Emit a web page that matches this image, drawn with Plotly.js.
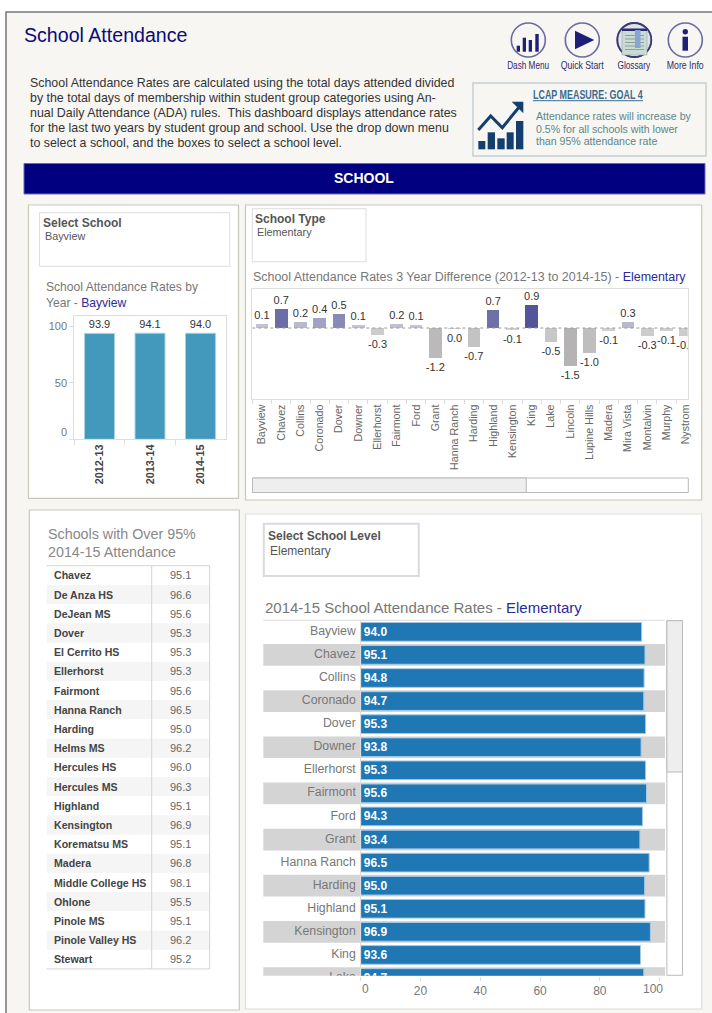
<!DOCTYPE html>
<html><head><meta charset="utf-8">
<script src="https://cdn.plot.ly/plotly-3.0.0.min.js"></script>
<style>html,body{margin:0;padding:0;background:#fff;overflow:hidden}#g{width:712px;height:1013px}</style>
</head><body><div id="g"></div>
<script>
// ---- data ----
const years = ['2012-13','2013-14','2014-15'];
const yearRates = [93.9,94.1,94.0];
const yearLabels = ['93.9','94.1','94.0'];

const diffSchools = ['Bayview','Chavez','Collins','Coronado','Dover','Downer','Ellerhorst','Fairmont','Ford','Grant','Hanna Ranch','Harding','Highland','Kensington','King','Lake','Lincoln','Lupine Hills','Madera','Mira Vista','Montalvin','Murphy','Nystrom'];
const diffValues = [0.15,0.75,0.25,0.41,0.56,0.13,-0.28,0.17,0.13,-1.19,-0.05,-0.74,0.72,-0.08,0.9,-0.56,-1.5,-0.98,-0.13,0.25,-0.32,-0.13,-0.32];
const diffLabels = ['0.1','0.7','0.2','0.4','0.5','0.1','-0.3','0.2','0.1','-1.2','0.0','-0.7','0.7','-0.1','0.9','-0.5','-1.5','-1.0','-0.1','0.3','-0.3','-0.1','-0.3'];

const levelSchools = ['Bayview','Chavez','Collins','Coronado','Dover','Downer','Ellerhorst','Fairmont','Ford','Grant','Hanna Ranch','Harding','Highland','Kensington','King','Lake'];
const levelRates = [94.0,95.1,94.8,94.7,95.3,93.8,95.3,95.6,94.3,93.4,96.5,95.0,95.1,96.9,93.6,94.7];

const over95Schools = ['Chavez','De Anza HS','DeJean MS','Dover','El Cerrito HS','Ellerhorst','Fairmont','Hanna Ranch','Harding','Helms MS','Hercules HS','Hercules MS','Highland','Kensington','Korematsu MS','Madera','Middle College HS','Ohlone','Pinole MS','Pinole Valley HS','Stewart'];
const over95Rates = ['95.1','96.6','95.6','95.3','95.3','95.3','95.6','96.5','95.0','96.2','96.0','96.3','95.1','96.9','95.1','96.8','98.1','95.5','95.1','96.2','95.2'];

const introLines = ['School Attendance Rates are calculated using the total days attended divided','by the total days of membership within student group categories using An-','nual Daily Attendance (ADA) rules.  This dashboard displays attendance rates','for the last two years by student group and school. Use the drop down menu','to select a school, and the boxes to select a school level.'];
const lcapLines = ['Attendance rates will increase by','0.5% for all schools with lower','than 95% attendance rate'];
const iconLabels = ['Dash Menu','Quick Start','Glossary','More Info'];

// ---- layout helpers (page pixels to paper fractions) ----
const W = 712, H = 1013;
const FX = v => v / W, FY = v => 1 - v / H;
const SANS = 'Liberation Sans, Arial, sans-serif';
const NAVY = '#2a2a9a';
const shapes = [], notes = [];

function rect(x0, y0, x1, y1, fill, line, lw) {
  shapes.push({type:'rect', xref:'paper', yref:'paper', x0:FX(x0), x1:FX(x1), y0:FY(y1), y1:FY(y0),
    fillcolor: fill || 'rgba(0,0,0,0)', line:{color: line || 'rgba(0,0,0,0)', width: line ? (lw === undefined ? 1 : lw) : 0}, layer:'below'});
}
function circle(cx, cy, r, fill, line, lw) {
  shapes.push({type:'circle', xref:'paper', yref:'paper', x0:FX(cx-r), x1:FX(cx+r), y0:FY(cy+r), y1:FY(cy-r),
    fillcolor: fill || 'rgba(0,0,0,0)', line:{color: line || 'rgba(0,0,0,0)', width: line ? lw : 0}, layer:'below'});
}
function poly(pts, fill, line, lw, closed) {
  const d = pts.map((p,i) => (i ? 'L' : 'M') + FX(p[0]) + ',' + FY(p[1])).join(' ') + (closed ? ' Z' : '');
  shapes.push({type:'path', xref:'paper', yref:'paper', path:d, fillcolor: fill || 'rgba(0,0,0,0)',
    line:{color: line || 'rgba(0,0,0,0)', width: line ? lw : 0}, layer:'below'});
}
function label(text, x, y, size, color, opts) {
  opts = opts || {};
  const left = !opts.anchor;
  notes.push({text, xref:'paper', yref:'paper', x:FX(left ? x - 1 : x), y:FY(y), xanchor:opts.anchor || 'left', yanchor:'middle',
    showarrow:false, borderpad:0, align:opts.anchor === 'center' ? 'center' : 'left',
    font:{family:SANS, size, color}});
}

// ---- page frame ----
rect(6, 12, 730, 1030, '#f7f6f2', '#777777', 1.5);

label('School Attendance', 24, 35, 19.6, '#0b0b7a');
introLines.forEach((t,i) => label(t, 30, 83 + i*15, 12.4, '#333333'));

// ---- nav icons ----
const iconX = [528.3, 582.3, 634.3, 685.3];
const ICON = '#1f1f78';
iconX.forEach((x,i) => {
  circle(x, 40, 17, i === 2 ? '#dfe5e2' : '#f7f6f2', '#6a6aa4', 1.6);
  label(iconLabels[i], x, 65, 11, '#2a2a70', {anchor:'center'});
});
[[516.7,520,45.7],[522.7,526,37.7],[528.7,532,40],[535.3,538.7,34]].forEach(b => rect(b[0], b[2], b[1], 51.7, ICON));
poly([[575,30.7],[575,49.3],[594.3,40]], ICON, null, 0, true);
circle(634.3, 40, 17, null, '#3a3a7c', 1.8);
rect(622, 30, 647, 55, '#c9dbd2', '#8c9aa0', 0.5);
rect(622, 28.5, 647, 31, '#2b2b70');
[35,38.5,42,45.5,49].forEach(y => rect(625, y, 644, y+1, '#8f9f9f'));
rect(635, 30, 640.5, 48, '#86a6d8');
circle(685.3, 31.7, 2.7, ICON);
rect(682.5, 36.7, 688, 50.7, ICON);

// ---- LCAP box ----
rect(473, 83, 706, 156, '#f7f6f2', '#c5cfd6', 1.5);
const LCAP = '#123f6d';
[[25,46,183],[53,75,157],[82,104,175],[110,131,157],[138,160,123]].forEach(b => rect(470+b[0]/3, 80+b[2]/3, 470+b[1]/3, 80+208/3, LCAP));
poly([[478.3,130],[490.7,116],[502.3,127.7],[520,106]], null, LCAP, 3);
poly([[511.7,101.7],[523.3,101.7],[523.3,113.3]], LCAP, null, 0, true);
label('<b>LCAP MEASURE: GOAL 4</b>', 533, 94.5, 12, '#3c6a90');
shapes.push({type:'line', xref:'paper', yref:'paper', x0:FX(533), x1:FX(643), y0:FY(100.7), y1:FY(100.7), line:{color:'#3c6a90', width:1}, layer:'below'});
lcapLines.forEach((t,i) => label(t, 536, 116 + i*12.5, 10.6, '#5b8787'));

// ---- banner ----
rect(24, 163.5, 705, 194, '#000080', '#6a6ab0', 1);
label('<b>SCHOOL</b>', 364, 178, 14, '#ffffff', {anchor:'center'});

// ---- panels ----
const PANEL = '#c9c8b8';
rect(28.5, 205, 238.5, 498.3, '#ffffff', PANEL, 1.2);
rect(245.5, 205, 701.7, 500, '#ffffff', PANEL, 1.2);
rect(29.3, 510, 239.3, 1010, '#ffffff', PANEL, 1.2);
rect(245.5, 514, 701.7, 1009, '#ffffff', '#dededa', 1.2);

// select boxes
rect(39.5, 212.7, 229.7, 266.3, '#ffffff', '#dddddd', 1);
label('<b>Select School</b>', 43, 223, 12, '#555555');
label('Bayview', 45, 236, 10.8, '#555555');
rect(252.3, 208.7, 366, 261.7, '#ffffff', '#dddddd', 1);
label('<b>School Type</b>', 255, 219, 12, '#555555');
label('Elementary', 257, 232, 10.8, '#555555');
rect(263.8, 523.8, 418.7, 576, '#ffffff', '#dadada', 2);
label('<b>Select School Level</b>', 268, 536, 12, '#555555');
label('Elementary', 269.5, 551, 12, '#555555');

// panel titles
label('School Attendance Rates by', 46, 287, 12.1, '#777777');
label('Year - <span style="color:'+NAVY+'">Bayview</span>', 46, 303, 12.1, '#777777');
label('School Attendance Rates 3 Year Difference (2012-13 to 2014-15) - <span style="color:'+NAVY+'">Elementary</span>', 252.5, 277, 12.45, '#777777');
label('Schools with Over 95%', 48, 534, 14.3, '#888888');
label('2014-15 Attendance', 48, 551.5, 14.3, '#888888');
label('2014-15 School Attendance Rates - <span style="color:'+NAVY+'">Elementary</span>', 264.5, 607, 15, '#777777');

// ---- over-95 table ----
const tTop = 565.7, tRow = 19.2;
over95Schools.forEach((s,i) => {
  if (i % 2) rect(46.7, tTop + i*tRow, 209.7, tTop + (i+1)*tRow, '#f5f5f5');
  label('<b>'+s+'</b>', 53.5, tTop + (i+.5)*tRow, 10.6, '#444444');
  label(over95Rates[i], 180.5, tTop + (i+.5)*tRow, 11, '#666666', {anchor:'center'});
});
const tBot = tTop + over95Schools.length*tRow;
[[46.7,tTop,209.7,tTop],[46.7,tBot,209.7,tBot],[151.7,tTop,151.7,tBot],[209.7,tTop,209.7,tBot]].forEach(l =>
  shapes.push({type:'line', xref:'paper', yref:'paper', x0:FX(l[0]), x1:FX(l[2]), y0:FY(l[1]), y1:FY(l[3]), line:{color:'#d4d4d4', width:1}, layer:'below'}));

// ---- scrollbars ----
rect(252.5, 478, 688.3, 492.5, '#ffffff', '#bbbbbb', 1);
rect(252.5, 478, 526.3, 492.5, '#eeeeee', '#bbbbbb', 1);
rect(666.9, 620.7, 682.5, 975.3, '#ffffff', '#bbbbbb', 1);
rect(666.9, 620.7, 682.5, 772, '#eeeeee', '#bbbbbb', 1);

// ---- row bands of the level chart, on its category axis ----
levelSchools.forEach((s,i) => {
  if (i % 2) shapes.push({type:'rect', xref:'paper', yref:'y3', x0:FX(263.3), x1:FX(665), y0:i-0.5+0.03, y1:i+0.5-0.03,
    fillcolor:'#d4d4d4', line:{width:0}, layer:'below'});
});
shapes.push({type:'line', xref:'paper', yref:'paper', x0:FX(263.3), x1:FX(665), y0:FY(620.3), y1:FY(620.3), line:{color:'#dddddd', width:1}, layer:'below'});

// zero line of the difference chart
shapes.push({type:'line', xref:'paper', yref:'y2', x0:FX(252.3), x1:FX(687.7), y0:0, y1:0, line:{color:'#9a9a9a', width:1, dash:'dot'}, layer:'above'});

// edge tick labels that sit shifted inside the plots in the reference
notes.push({text:'0', xref:'paper', yref:'y', x:FX(68.5), y:0, xanchor:'right', yanchor:'middle', yshift:7, showarrow:false, font:{family:SANS, size:11, color:'#777777'}});
notes.push({text:'0', xref:'x3', yref:'paper', x:0, y:FY(989), xanchor:'center', yanchor:'middle', xshift:4.5, showarrow:false, font:{family:SANS, size:12, color:'#777777'}});
notes.push({text:'100', xref:'x3', yref:'paper', x:100, y:FY(989), xanchor:'center', yanchor:'middle', xshift:-7, showarrow:false, font:{family:SANS, size:12, color:'#777777'}});

const traces = [
  {type:'bar', x:years, y:yearRates, xaxis:'x', yaxis:'y', width:0.594,
   marker:{color:'#4399bb', line:{color:'#a5d3e2', width:1}},
   text:yearLabels, textposition:'outside', textangle:0, constraintext:'none', cliponaxis:false,
   textfont:{family:SANS, size:11, color:'#333333'}, hoverinfo:'skip'},
  {type:'bar', x:diffSchools, y:diffValues, xaxis:'x2', yaxis:'y2', width:0.66,
   marker:{color:diffValues, cmin:-1.5, cmax:0.9, colorscale:[[0,'#b5b3b3'],[0.62,'#d2d2d2'],[0.63,'#cfcfdd'],[0.75,'#b3b3cd'],[1,'#54549a']], showscale:false, line:{width:0}},
   text:diffLabels, textposition:'outside', textangle:0, constraintext:'none', cliponaxis:true,
   textfont:{family:SANS, size:11, color:'#333333'}, hoverinfo:'skip'},
  {type:'bar', orientation:'h', x:levelRates, y:levelSchools, xaxis:'x3', yaxis:'y3', width:0.81,
   marker:{color:'#1f77b4', line:{color:'#a8c9e2', width:1}},
   text:levelRates.map(v => v.toFixed(1)), textposition:'inside', insidetextanchor:'start', textangle:0, constraintext:'none', cliponaxis:true,
   textfont:{family:SANS, size:12, color:'#ffffff', weight:'bold'}, hoverinfo:'skip'},
  {type:'scatter', mode:'text', x:levelSchools.map(() => 1), y:levelSchools, xaxis:'x4', yaxis:'y4',
   text:levelSchools, textposition:'middle left', cliponaxis:true,
   textfont:{family:SANS, size:12.3, color:'#777777'}, hoverinfo:'skip'}
];

const lvlRange = [14.9, -0.5];
const layout = {
  width:W, height:H, margin:{l:0,r:0,t:0,b:0,pad:0}, showlegend:false, autosize:false,
  paper_bgcolor:'#ffffff', plot_bgcolor:'rgba(0,0,0,0)', bargap:0, hovermode:false,
  font:{family:SANS, color:'#777777'},
  shapes, annotations:notes,
  xaxis:{domain:[FX(74.3),FX(225.7)], anchor:'y', type:'category', range:[-0.5,2.5], tickson:'boundaries', ticks:'outside', ticklen:5, tickcolor:'#dddddd',
    tickangle:-90, tickfont:{family:SANS, size:10.8, color:'#444444', weight:'bold'}, showline:true, linecolor:'#dddddd', mirror:true, showgrid:false, zeroline:false, fixedrange:true},
  yaxis:{domain:[FY(439.3),FY(315.7)], anchor:'x', range:[0,109.6], tickvals:[50,100], ticks:'outside', ticklen:4, tickcolor:'#dddddd',
    minor:{tickvals:[0], ticks:'outside', ticklen:4, tickcolor:'#dddddd', showgrid:false},
    tickfont:{family:SANS, size:11, color:'#777777'}, showline:true, linecolor:'#dddddd', mirror:true, showgrid:false, zeroline:false, fixedrange:true},
  xaxis2:{domain:[FX(252.3),FX(687.7)], anchor:'y2', type:'category', range:[-0.5,22.1], tickson:'boundaries', ticks:'outside', ticklen:4, tickcolor:'#dddddd',
    tickangle:-90, tickfont:{family:SANS, size:10.7, color:'#666666'}, showline:true, linecolor:'#dddddd', mirror:true, showgrid:false, zeroline:false, fixedrange:true},
  yaxis2:{domain:[FY(399.3),FY(289.3)], anchor:'x2', range:[-2.835,1.54], showticklabels:false, ticks:'', showline:true, linecolor:'#dddddd', mirror:true, showgrid:false, zeroline:false, fixedrange:true},
  xaxis3:{domain:[FX(360.7),FX(665)], anchor:'y3', range:[0,101.8], tickvals:[20,40,60,80], ticks:'outside', ticklen:4, tickcolor:'#dddddd',
    minor:{tickvals:[0,100], ticks:'outside', ticklen:4, tickcolor:'#dddddd', showgrid:false},
    tickfont:{family:SANS, size:12, color:'#777777'}, showline:false, showgrid:false, zeroline:false, fixedrange:true},
  yaxis3:{domain:[FY(975.7),FY(620.3)], anchor:'x3', type:'category', range:lvlRange, showticklabels:false, ticks:'', showline:true, linecolor:'#dddddd', showgrid:false, zeroline:false, fixedrange:true},
  xaxis4:{domain:[FX(263.3),FX(355.8)], anchor:'y4', range:[0,1], visible:false, fixedrange:true},
  yaxis4:{domain:[FY(975.7),FY(620.3)], anchor:'x4', type:'category', range:lvlRange, visible:false, fixedrange:true}
};
// target widths of the condensed captions in the reference
const condensed = {'Dash Menu':[42,'c'],'Quick Start':[43,'c'],'Glossary':[33,'c'],'More Info':[37,'c'],'LCAP MEASURE: GOAL 4':[110,'l']};
Plotly.newPlot('g', traces, layout, {displayModeBar:false, staticPlot:true}).then(gd => {
  gd.querySelectorAll('.annotation-text').forEach(t => {
    const c = condensed[t.textContent];
    if (!c) return;
    const b = t.getBBox(), s = c[0] / b.width, o = c[1] === 'c' ? b.x + b.width/2 : b.x;
    t.setAttribute('transform', 'translate(' + o + ',0) scale(' + s + ',1) translate(' + (-o) + ',0)');
  });
});
</script></body></html>
